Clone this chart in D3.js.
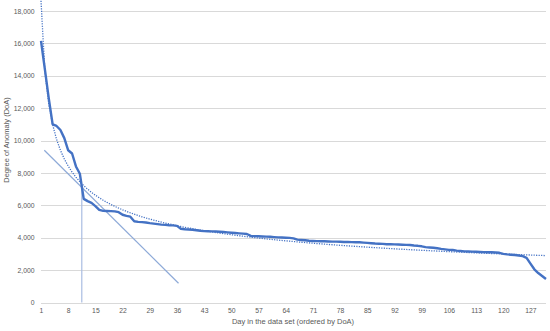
<!DOCTYPE html>
<html>
<head>
<meta charset="utf-8">
<title>Degree of Anomaly</title>
<script src="https://cdn.jsdelivr.net/npm/d3@7"></script>
<style>
  * { margin: 0; padding: 0; }
  body { background: #fff; }
  text { font-family: "Liberation Sans", Arial, sans-serif; fill: #595959; }
</style>
</head>
<body>
<div id="chart"></div>
<script>
// DoA per day, sorted descending
var doa = [
  16150, 14400, 12600, 11000, 10900, 10650, 10150, 9400, 9200, 8400,
  7950, 6400, 6260, 6150, 5950, 5720, 5660, 5650, 5640, 5630,
  5580, 5420, 5350, 5300, 5020, 4980, 4960, 4940, 4900, 4870,
  4840, 4810, 4790, 4770, 4760, 4730, 4550, 4520, 4510, 4490,
  4460, 4430, 4410, 4400, 4390, 4380, 4370, 4350, 4330, 4310,
  4290, 4270, 4250, 4230, 4110, 4100, 4090, 4080, 4070, 4060,
  4040, 4020, 4010, 4000, 3990, 3960, 3880, 3860, 3840, 3810,
  3800, 3790, 3780, 3780, 3770, 3760, 3760, 3750, 3740, 3740,
  3730, 3720, 3720, 3700, 3680, 3660, 3640, 3630, 3620, 3600,
  3595, 3590, 3580, 3570, 3560, 3550, 3520, 3500, 3470, 3420,
  3400, 3380, 3350, 3310, 3280, 3250, 3240, 3200, 3180, 3160,
  3150, 3140, 3130, 3120, 3110, 3100, 3100, 3090, 3070, 3000,
  2970, 2950, 2930, 2900, 2860, 2760, 2400, 2050, 1820, 1640,
  1450
];
var days = doa.map(function(d, i){ return i + 1; });

var xTicks = [1, 8, 15, 22, 29, 36, 43, 50, 57, 64, 71, 78, 85, 92, 99, 106, 113, 120, 127];
var yTicks = [0, 2000, 4000, 6000, 8000, 10000, 12000, 14000, 16000, 18000];

// tangent line and the vertical marker at the knee
var tangentDays = [1.85, 36.4];
var tangentValues = [9400, 1190];
var kneeDays = [11.5, 11.5];
var kneeValues = [0, 7100];

var W = 550, H = 331;
var svg = d3.select("#chart").append("svg").attr("width", W).attr("height", H);

var x = d3.scaleLinear().domain([1, days.length]).range([41, 546]);
var y = d3.scaleLinear().domain([0, 18000]).range([302.5, 11]);

// gridlines
svg.append("g").selectAll("line").data(yTicks).enter().append("line")
   .attr("x1", 41).attr("x2", 546)
   .attr("y1", function(d){ return Math.round(y(d)) + 0.5; })
   .attr("y2", function(d){ return Math.round(y(d)) + 0.5; })
   .attr("stroke", "#d9d9d9").attr("stroke-width", 1);

// y axis labels
var yAxis = d3.axisLeft(y).tickValues(yTicks).tickSize(0).tickPadding(0)
              .tickFormat(d3.format(","));
svg.append("g").attr("transform", "translate(34.5,0)").call(yAxis)
   .call(function(g){ g.select(".domain").remove(); })
   .selectAll("text").style("font-size", "6.8px").attr("fill", "#6a6a6a")
   .style("font-family", "Liberation Sans, Arial, sans-serif");

// x axis labels
var xAxis = d3.axisBottom(x).tickValues(xTicks).tickSize(0).tickPadding(0);
svg.append("g").attr("transform", "translate(0,308)").call(xAxis)
   .call(function(g){ g.select(".domain").remove(); })
   .selectAll("text").style("font-size", "6.8px").attr("fill", "#6a6a6a")
   .style("font-family", "Liberation Sans, Arial, sans-serif");

// axis titles
svg.append("text").attr("x", 293).attr("y", 324).attr("text-anchor", "middle")
   .style("font-size", "7.5px").text("Day in the data set (ordered by DoA)");
svg.append("text").attr("transform", "translate(8.5,140) rotate(-90)")
   .attr("text-anchor", "middle").style("font-size", "7.5px")
   .text("Degree of Anomaly (DoA)");

// power trendline fitted to the data (least squares on log-log)
var lx = days.map(Math.log), ly = doa.map(Math.log);
var mx = d3.mean(lx), my = d3.mean(ly);
var sxy = d3.sum(lx, function(v, i){ return (v - mx) * (ly[i] - my); });
var sxx = d3.sum(lx, function(v){ return (v - mx) * (v - mx); });
var b = sxy / sxx, a = Math.exp(my - b * mx);

var line = d3.line().x(function(d){ return x(d[0]); }).y(function(d){ return y(d[1]); });

svg.append("path")
   .attr("d", line(days.map(function(dd){ return [dd, a * Math.pow(dd, b)]; })))
   .attr("fill", "none").attr("stroke", "#4472c4").attr("stroke-width", 1.3)
   .attr("stroke-dasharray", "1.2,1.3");

// tangent and knee marker
svg.append("path")
   .attr("d", line(tangentDays.map(function(dd, i){ return [dd, tangentValues[i]]; })))
   .attr("fill", "none").attr("stroke", "#8eaad8").attr("stroke-width", 1.2);
svg.append("path")
   .attr("d", line(kneeDays.map(function(dd, i){ return [dd, kneeValues[i]]; })))
   .attr("fill", "none").attr("stroke", "#a9bde2").attr("stroke-width", 1.2);

// main series
svg.append("path")
   .attr("d", line(days.map(function(dd, i){ return [dd, doa[i]]; })))
   .attr("fill", "none").attr("stroke", "#4472c4").attr("stroke-width", 2.4)
   .attr("stroke-linejoin", "round");
</script>
</body>
</html>
